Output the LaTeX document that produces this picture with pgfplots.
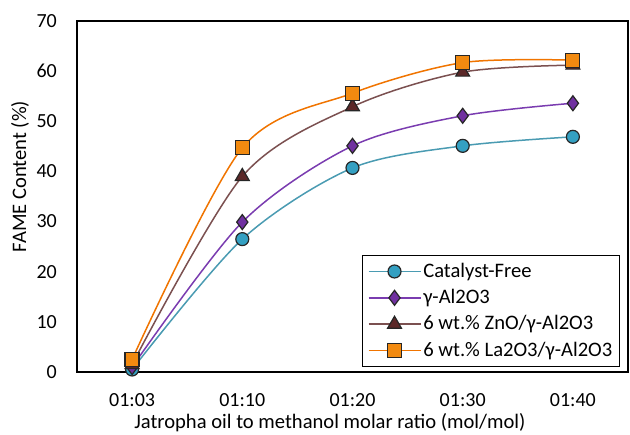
\documentclass[border=0pt]{standalone}
\usepackage{pgfplots}
\pgfplotsset{compat=1.18}
\usepackage{fontspec}
\setmainfont{Carlito}
\definecolor{cfline}{HTML}{4A9BB2}
\definecolor{cffill}{HTML}{34A0C2}
\definecolor{alline}{HTML}{7A3CB0}
\definecolor{alfill}{HTML}{7030A0}
\definecolor{znline}{HTML}{7B5050}
\definecolor{znfill}{HTML}{5C2828}
\definecolor{laline}{HTML}{F07400}
\definecolor{lafill}{HTML}{F28A10}
\begin{document}
\fontsize{20.5}{24}\selectfont
\begin{tikzpicture}
\useasboundingbox (-77pt,-63pt) rectangle ++(630pt,435pt);
\begin{axis}[
    scale only axis,
    width=551pt, height=351pt,
    xmin=-0.5, xmax=4.5,
    ymin=0, ymax=70,
    clip=false,
    xtick={0,1,2,3,4},
    xticklabels={01:03,01:10,01:20,01:30,01:40},
    ytick={0,10,...,70},
    major tick length=0pt,
    axis line style={line width=1.6pt, black},
    /pgf/number format/assume math mode=true,
    tick label style={font=\fontsize{20}{24}\selectfont},
    yticklabel style={inner sep=0pt, xshift=-20pt},
    xticklabel style={inner sep=0pt, yshift=-21pt},
    xlabel={Jatropha oil to methanol molar ratio (mol/mol)},
    ylabel={FAME Content (\%)},
    label style={font=\fontsize{20.6}{24}\selectfont},
    xlabel style={at={(axis description cs:0.459,0)}, anchor=base,
        inner sep=0pt, yshift=-57pt},
    ylabel style={at={(axis description cs:-0.1034,0.557)}, anchor=center,
        inner sep=0pt},
    legend style={at={(1,0)}, anchor=south east, xshift=-8pt, yshift=5pt,
        draw=black, line width=1.4pt, font=\fontsize{20.6}{24}\selectfont,
        row sep=5pt, inner sep=5pt},
    legend cell align=left,
    legend image code/.code={\draw[mark repeat=2, mark phase=2]
        plot coordinates {(0pt,0pt) (26pt,0pt) (52pt,0pt)};},
    every axis plot/.append style={smooth, line width=1.5pt},
]
\addplot[cfline, mark=*, mark size=6.5pt,
    mark options={fill=cffill, draw=black!85, line width=1.2pt}]
    coordinates {(0,0.5) (1,26.5) (2,40.7) (3,45.1) (4,46.9)};
\addlegendentry{Catalyst-Free}
\addplot[alline, mark=diamond*, mark size=7.5pt,
    mark options={fill=alfill, draw=black!85, line width=1.2pt}]
    coordinates {(0,1.0) (1,29.9) (2,45.1) (3,51.1) (4,53.6)};
\addlegendentry{γ-Al2O3}
\addplot[znline, mark=triangle*, mark size=8pt,
    mark options={fill=znfill, draw=black!85, line width=1.2pt}]
    coordinates {(0,1.5) (1,39.0) (2,52.9) (3,59.8) (4,61.2)};
\addlegendentry{6 wt.\% ZnO/γ-Al2O3}
\addplot[laline, mark=square*, mark size=7pt,
    mark options={fill=lafill, draw=black!85, line width=1.2pt}]
    coordinates {(0,2.5) (1,44.7) (2,55.6) (3,61.7) (4,62.2)};
\addlegendentry{6 wt.\% La2O3/γ-Al2O3}
\end{axis}
\end{tikzpicture}
\end{document}
